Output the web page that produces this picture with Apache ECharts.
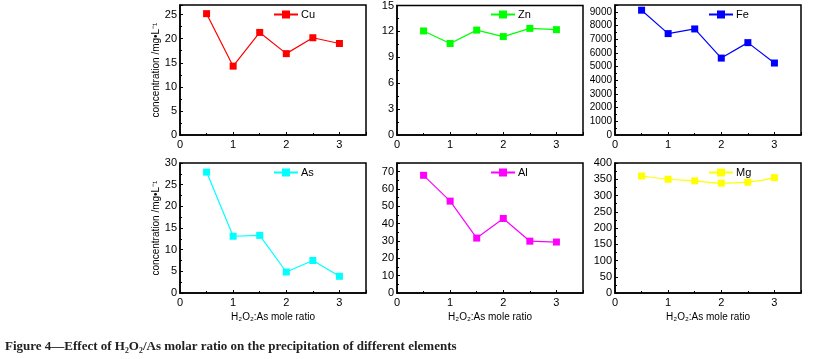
<!DOCTYPE html>
<html>
<head>
<meta charset="utf-8">
<script src="https://cdn.jsdelivr.net/npm/echarts@6/dist/echarts.min.js"></script>
<style>
html, body { margin: 0; padding: 0; background: #fff; }
#main { width: 815px; height: 359px; }
</style>
</head>
<body>
<div id="main"></div>
<script>
// H2O2:As mole ratio
var ratios = [0.5, 1, 1.5, 2, 2.5, 3];

var cu = [25.2, 14.3, 21.3, 16.9, 20.2, 19.0];
var zn = [12.05, 10.6, 12.15, 11.4, 12.35, 12.2];
var fe = [9120, 7410, 7750, 5620, 6750, 5260];
var as = [27.9, 13.1, 13.3, 4.85, 7.5, 3.85];
var al = [67.9, 53.0, 31.7, 43.0, 29.9, 29.4];
var mg = [360, 350, 345, 338, 341, 355];

var yLabel = 'concentration /mg\u2022L\u207B\u00B9';
var xLabel = 'H\u2082O\u2082:As mole ratio';
var caption = 'Figure 4\u2014Effect of H\u2082O\u2082/As molar ratio on the precipitation of different elements';

var chart = echarts.init(document.getElementById('main'));

var panels = [
    { name: 'Cu', data: cu, color: '#ff0000', max: 27, interval: 5, showMax: false, col: 0, row: 0 },
    { name: 'Zn', data: zn, color: '#00ff00', max: 15, interval: 3, showMax: true, col: 1, row: 0 },
    { name: 'Fe', data: fe, color: '#0000ff', max: 9500, interval: 1000, showMax: false, col: 2, row: 0 },
    { name: 'As', data: as, color: '#00ffff', max: 30, interval: 5, showMax: true, col: 0, row: 1 },
    { name: 'Al', data: al, color: '#ff00ff', max: 75, interval: 10, showMax: false, col: 1, row: 1 },
    { name: 'Mg', data: mg, color: '#ffff00', max: 400, interval: 50, showMax: true, col: 2, row: 1, smooth: true }
];

var lefts = [180, 397, 615];
var tops = [5, 163];
var gw = 186, gh = 130;

var font = 'Liberation Sans, Arial, sans-serif';

var grids = [], xAxes = [], yAxes = [], series = [], legends = [];

panels.forEach(function (p, i) {
    var left = lefts[p.col], top = tops[p.row];
    grids.push({
        left: left, top: top, width: gw, height: gh,
        show: true, borderColor: '#000', borderWidth: 1.5
    });
    xAxes.push({
        type: 'value', gridIndex: i, min: 0, max: 3.5, interval: 1,
        name: p.row === 1 ? xLabel : '',
        nameLocation: 'middle', nameGap: 19,
        nameTextStyle: { fontFamily: font, fontSize: 10, color: '#000' },
        axisLine: { lineStyle: { color: '#000', width: 1.5 } },
        axisTick: { inside: true, length: 3, lineStyle: { color: '#000' } },
        minorTick: { show: true, splitNumber: 2, length: 2, lineStyle: { color: '#000' } },
        axisLabel: { color: '#000', fontFamily: font, fontSize: 11, margin: 4, showMaxLabel: false },
        splitLine: { show: false }
    });
    yAxes.push({
        type: 'value', gridIndex: i, min: 0, max: p.max, interval: p.interval,
        name: p.col === 0 ? yLabel : '',
        nameLocation: 'middle', nameGap: 15,
        nameTextStyle: { fontFamily: font, fontSize: 10, color: '#000' },
        axisLine: { lineStyle: { color: '#000', width: 1.5 } },
        axisTick: { inside: true, length: 3, lineStyle: { color: '#000' } },
        minorTick: { show: true, splitNumber: 2, length: 2, lineStyle: { color: '#000' } },
        axisLabel: {
            color: '#000', fontFamily: font, fontSize: p.name === 'Fe' ? 10 : 11,
            margin: 3, showMaxLabel: p.showMax,
            formatter: function (v) { return String(v); }
        },
        splitLine: { show: false }
    });
    series.push({
        name: p.name, type: 'line', xAxisIndex: i, yAxisIndex: i,
        data: ratios.map(function (r, k) { return [r, p.data[k]]; }),
        smooth: !!p.smooth,
        symbol: 'rect', symbolSize: 7,
        itemStyle: { color: p.color },
        lineStyle: { color: p.color, width: 1.2 }
    });
    legends.push({
        data: [p.name],
        left: left + 93, top: top + 4,
        padding: 0,
        itemWidth: 24, itemHeight: 10, itemGap: 2,
        textStyle: { fontFamily: font, fontSize: 11, color: '#000', padding: [0, 0, 0, -2] }
    });
});

var option = {
    animation: false,
    backgroundColor: '#fff',
    title: {
        text: caption, left: 0, top: 335,
        textStyle: { fontFamily: 'Liberation Serif, Times New Roman, serif', fontSize: 13, fontWeight: 'bold', color: '#222' }
    },
    grid: grids,
    xAxis: xAxes,
    yAxis: yAxes,
    legend: legends,
    series: series
};

chart.setOption(option);
</script>
</body>
</html>
